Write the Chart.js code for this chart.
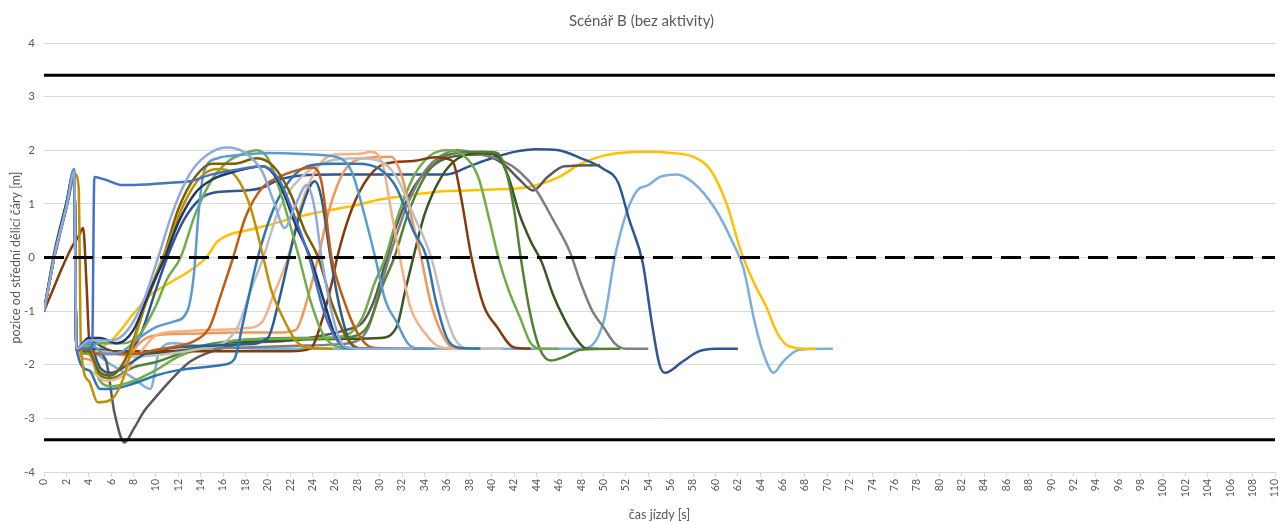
<!DOCTYPE html>
<html>
<head>
<meta charset="utf-8">
<script src="https://cdn.jsdelivr.net/npm/chart.js@4"></script>
<style>
    body { margin: 0; background: #fff; }
    #wrap { width: 1282px; height: 522px; }
</style>
</head>
<body>
<div id="wrap"><canvas id="chart"></canvas></div>
<script>
// time [s] / position [m] pairs
const run01 = [[0,-1],[1,0.1],[2,0.95],[2.7,1.6],[2.9,-1.7],[4,-1.55],[6,-1.55],[7.5,-1.35],[9,-0.75],[10.2,0],[11.5,0.85],[13,1.55],[14.5,1.9],[16.3,2.05],[18,1.95],[19.5,1.6],[20.6,1.0],[21.5,0.55],[22.4,0.95],[23.5,1.35],[24.2,0.9],[24.8,0],[25.8,-1.1],[26.8,-1.65],[28,-1.7],[33,-1.7]]
const run02 = [[0,0],[0.8,0],[1.5,0.5],[2.2,1.1],[2.7,1.6],[2.9,-1.7],[4.3,-1.7],[4.5,1.5],[5.5,1.45],[7,1.35],[9,1.36],[11,1.39],[13,1.42],[15,1.55],[17,1.63],[19.5,1.7],[21,1.45],[22.5,0.7],[23.7,0],[25,-1.0],[26.2,-1.55],[27.5,-1.7],[30,-1.7]]
const run03 = [[0,-1],[1,0.15],[2,1],[2.7,1.6],[2.9,-1.7],[4,-1.5],[5,-1.5],[6.5,-1.6],[8,-1.35],[9.5,-0.6],[10.8,0],[12,0.65],[13.5,1.2],[15,1.45],[17,1.6],[19.5,1.7],[21,1.4],[22.5,0.6],[23.8,0],[25,-0.8],[26,-1.45],[27,-1.68],[29,-1.7]]
const run04 = [[0,-1],[1,0.1],[2,0.95],[2.8,1.55],[3.1,1.3],[3.3,-1.7],[4,-2.3],[4.8,-2.7],[6,-2.65],[7,-2.3],[8,-1.6],[9.5,-0.6],[11,0.2],[12.5,1.0],[14,1.5],[15.5,1.65],[16.5,1.62],[17.5,1.4],[18.5,0.9],[19.6,0],[20.3,-0.6],[21.3,-1.1],[22.5,-1.55],[23.5,-1.68],[25.8,-1.7]]
const run05 = [[0,-1],[1,0.1],[2,0.95],[2.7,1.55],[2.9,-1.7],[4,-1.75],[5,-2.15],[6,-2.2],[7.5,-1.8],[9,-0.9],[10.5,-0.1],[12,0.9],[13.5,1.5],[15,1.75],[17,1.75],[19,1.85],[20.5,1.7],[22,1.2],[23.3,0.5],[24.5,0],[25.8,-0.9],[27.2,-1.55],[28.5,-1.7],[31.5,-1.7]]
const run06 = [[0,-1],[1,0.1],[2,1],[2.7,1.65],[2.9,-1.7],[4,-1.6],[5.5,-1.8],[7,-1.75],[8.5,-1.5],[10,-1.3],[11.5,-1.2],[12.8,-1.0],[13.4,-0.3],[13.8,0.8],[14.3,1.6],[15.5,1.85],[17,1.9],[20,1.95],[24,1.92],[26.5,1.85],[27.5,1.6],[28.5,0.9],[29.6,0],[30.5,-0.8],[31.5,-1.2],[32.5,-1.6],[33.5,-1.7],[35,-1.7]]
const run07 = [[0,-1],[1,0.1],[2,0.95],[2.7,1.6],[2.9,-1.7],[4,-1.65],[5,-1.6],[7,-1.6],[8.5,-1.45],[10,-0.9],[11,-0.4],[12.2,0],[13.5,0.8],[15,1.45],[16.5,1.8],[18,1.95],[19,2.0],[20,1.85],[21,1.3],[22,0.6],[22.8,0],[23.8,-0.8],[25,-1.45],[26.5,-1.68],[28,-1.7]]
const run08 = [[0,-1],[1,0.1],[2,0.95],[2.7,1.6],[2.9,-1.7],[4,-1.75],[5,-1.8],[8,-1.8],[10,-1.72],[12,-1.65],[13.5,-1.55],[14.8,-1.3],[15.8,-0.7],[16.9,0],[18,0.75],[19.5,1.3],[21,1.5],[22.5,1.62],[24,1.68],[24.8,1.4],[25.7,0],[26.8,-0.8],[28,-1.4],[29.3,-1.68],[31,-1.7],[34.5,-1.7]]
const run09 = [[0,-1],[1,0.1],[2,1],[2.7,1.65],[2.9,-1.7],[4,-2.1],[5,-2.45],[6,-2.45],[8,-2.35],[10,-2.2],[12,-2.1],[14,-2.05],[16,-2.0],[17,-1.9],[17.8,-1.2],[19.1,0],[20.5,0.9],[22,1.45],[23.5,1.7],[25.5,1.75],[28,1.75],[30,1.65],[31.5,1.3],[33,0.5],[34.2,0],[35,-0.8],[36,-1.5],[37,-1.68],[39,-1.7]]
const run10 = [[0,-1],[1,0.1],[2,1],[2.7,1.6],[2.9,-1.7],[4,-1.6],[5,-2.05],[6,-2.15],[7.5,-2.0],[9,-1.8],[11,-1.7],[14,-1.65],[18,-1.62],[20,-1.5],[21,-0.8],[22,0.1],[23,0.9],[24.2,1.42],[24.8,1.1],[25.6,0],[26.5,-1.0],[27.4,-1.6],[28.5,-1.7],[30,-1.7]]
const run11 = [[0,-1],[1,0.15],[2,1],[2.7,1.4],[2.9,-1.7],[5,-1.75],[8,-1.85],[11,-1.8],[14,-1.7],[16,-1.6],[17.3,-1.3],[18.5,-0.6],[19.6,0],[21,0.9],[23,1.5],[25.5,1.8],[28,1.85],[30,1.8],[31.5,1.5],[33,0.8],[34.6,0],[35.8,-1.0],[36.8,-1.55],[38,-1.7],[41,-1.7]]
const run12 = [[0,-1],[1,0.2],[2,1],[2.7,1.6],[2.9,-1.7],[4,-2.1],[5.5,-2.3],[7,-2.2],[8.5,-1.8],[10,-1.45],[12,-1.38],[15,-1.35],[18,-1.32],[19.5,-1.2],[20.5,-0.7],[21.8,0],[23,1.0],[24.5,1.7],[26,1.92],[28,1.93],[29.3,1.97],[30.3,1.7],[31,0.9],[31.8,0],[32.7,-0.9],[34,-1.4],[35.5,-1.68],[37,-1.7]]
const run13 = [[0,-1],[1,0.15],[2,1],[2.7,1.6],[2.9,-1.7],[4,-1.9],[5.5,-2.2],[7,-2.05],[8.5,-1.6],[10,-1.45],[13,-1.42],[17,-1.4],[21,-1.4],[22.5,-1.35],[23.5,-0.8],[24.5,0],[25.5,0.9],[26.8,1.6],[28.5,1.85],[31,1.88],[32,1.5],[33,0.6],[33.7,0],[34.5,-0.8],[35.5,-1.4],[36.5,-1.68],[38,-1.7]]
const run14 = [[0,-1],[0.8,-0.6],[1.6,-0.2],[2.5,0.2],[3.1,0.4],[3.5,0.55],[3.8,-0.5],[4.1,-1.7],[5,-1.75],[8,-1.75],[12,-1.75],[17,-1.75],[22,-1.75],[23.8,-1.7],[24.8,-1.2],[25.8,-0.4],[26.2,0],[27.5,0.9],[29,1.5],[30.5,1.75],[33,1.8],[35,1.87],[36.5,1.8],[37.2,1.2],[38.2,0],[39.3,-0.9],[40.5,-1.3],[42,-1.68],[43.5,-1.7]]
const run15 = [[0,-1],[1,0.1],[2,0.95],[2.7,1.55],[2.9,-1.7],[4,-1.8],[5,-2.3],[6,-2.4],[8,-2.3],[10,-2.1],[12,-1.85],[14,-1.7],[17,-1.55],[20,-1.52],[25,-1.5],[27,-1.45],[28.5,-1.1],[29.5,-0.5],[30.5,0],[31.5,0.7],[33,1.5],[34.5,1.9],[36,2.0],[37.5,1.9],[38.8,1.5],[39.8,0.7],[40.6,0],[41.5,-0.6],[42.5,-1.1],[43.5,-1.6],[44.5,-1.7],[46,-1.7]]
const run16 = [[0,-1],[1,0.1],[2,0.95],[2.7,1.6],[2.9,-1.7],[4,-1.8],[5,-2.2],[6,-2.25],[8,-2.05],[10,-1.95],[12,-1.8],[14,-1.65],[17,-1.55],[22,-1.5],[26,-1.5],[28,-1.45],[29,-1.25],[30.3,-0.5],[31.3,0],[32.5,0.8],[34,1.5],[35.5,1.85],[37,1.95],[39,1.97],[40.5,1.95],[41.3,1.6],[42,0.9],[42.6,0],[43.4,-1.0],[44.3,-1.7],[45.3,-1.92],[46.5,-1.85],[48,-1.72],[51.5,-1.7]]
const run17 = [[0,-1],[1,0.1],[2,0.95],[2.7,1.6],[2.9,-1.7],[4,-1.7],[6,-1.75],[9,-1.8],[12,-1.75],[16,-1.6],[20,-1.55],[25,-1.52],[30,-1.5],[31.5,-1.3],[32.3,-0.6],[33,0],[34,0.8],[35.5,1.5],[37,1.85],[39,1.95],[40.5,1.9],[41.5,1.5],[42.5,0.8],[43.5,0.3],[44.5,-0.1],[45.5,-0.7],[46.5,-1.15],[47.5,-1.5],[48.5,-1.7],[49.5,-1.7]]
const run18 = [[0,-1],[1,0.15],[2,1],[2.7,1.5],[2.9,-1.7],[5,-1.75],[8,-1.8],[11,-1.75],[14,-1.7],[18,-1.68],[22,-1.65],[26,-1.62],[28,-1.55],[29,-1.3],[30,-0.6],[31,0.1],[32.5,1.0],[34,1.6],[35.5,1.9],[37,2.0],[39,1.92],[41,1.8],[42.5,1.6],[44,1.25],[45.5,0.7],[47,0.1],[48,-0.5],[49,-1.0],[50,-1.3],[51,-1.6],[52,-1.7],[54,-1.7]]
const run19 = [[0,-1],[1,0.1],[2,0.95],[2.7,1.5],[2.9,-1.7],[4,-1.7],[5.5,-1.9],[6.3,-2.9],[7.2,-3.45],[8,-3.2],[9,-2.85],[10,-2.6],[11.5,-2.25],[13,-1.95],[15,-1.75],[18,-1.6],[22,-1.55],[25,-1.45],[27,-1.35],[28.5,-1.2],[29.5,-0.8],[30.5,-0.1],[31.5,0.6],[33,1.3],[35,1.75],[37,1.9],[39,1.92],[41,1.75],[42.5,1.45],[43.7,1.25],[45,1.5],[46.5,1.7],[49.7,1.72]]
const run20 = [[0,-1],[1,0.1],[2,1],[2.7,1.6],[2.9,-1.7],[4,-1.55],[5.5,-1.7],[7,-1.8],[8.5,-1.5],[10,-0.6],[11,0],[12.5,0.7],[14,1.1],[15.5,1.22],[18,1.25],[19.5,1.3],[21,1.45],[23,1.53],[26,1.55],[30,1.55],[36,1.55],[38,1.7],[40,1.85],[42,1.97],[44,2.02],[46,2.0],[48,1.85],[50,1.65],[51.3,1.4],[52.3,0.7],[53.5,-0.1],[54.3,-1.2],[55,-2.0],[55.5,-2.15],[57,-1.95],[58.5,-1.75],[60,-1.7],[62,-1.7]]
const run21 = [[0,-1],[1,0.1],[2,1],[2.7,1.55],[2.9,-1.7],[4,-1.75],[6,-1.55],[8,-1.05],[9.5,-0.7],[11,-0.5],[13,-0.25],[14.5,0],[15.5,0.3],[16.5,0.42],[18,0.5],[20,0.6],[22,0.72],[24,0.82],[26,0.9],[28,0.98],[30,1.08],[32,1.14],[34,1.2],[36,1.24],[38,1.25],[40,1.27],[42,1.28],[44,1.35],[46,1.5],[48,1.75],[50,1.9],[52,1.96],[54,1.97],[56,1.95],[58,1.88],[59.5,1.65],[61,1.0],[62.3,0.1],[63.5,-0.5],[64.5,-0.9],[65.5,-1.4],[66.5,-1.65],[68,-1.7],[69,-1.7]]
const run22 = [[0,-1],[1,0.1],[2,1],[2.7,1.6],[2.9,-1.7],[4,-1.75],[6,-2.0],[8,-2.25],[9.5,-2.45],[10.3,-1.75],[11.5,-1.6],[14,-1.65],[20,-1.7],[48,-1.7],[50,-1.2],[51,0],[52,0.8],[53,1.25],[54,1.35],[55,1.5],[56.5,1.55],[58,1.4],[60,0.9],[61.5,0.3],[62.5,-0.2],[63.5,-1.2],[64.3,-1.8],[65.2,-2.15],[66,-1.95],[67.5,-1.72],[70.5,-1.7]]

const runColors = ['#8FAADC','#4472C4','#203864','#BF9000','#7F6000','#5B9BD5','#70AD47','#C55A11','#2E75B6','#255E91','#BFBFBF','#F4B183','#F1975A','#843C0C','#70AD47','#548235','#385723','#7F7F7F','#595959','#2F5597','#FFC000','#7CAFDD']
const runs = [run01,run02,run03,run04,run05,run06,run07,run08,run09,run10,run11,run12,run13,run14,run15,run16,run17,run18,run19,run20,run21,run22]

// lane edges and centre line
const laneEdge = 3.4
const centreLine = 0
const xMin = 0
const xMax = 110

function refLine(y, dash) {
    return {
        data: [{x: xMin, y: y}, {x: xMax, y: y}],
        borderColor: '#000',
        borderWidth: 3,
        borderDash: dash,
        pointRadius: 0,
        fill: false
    }
}

function runLine(points, color) {
    return {
        data: points.map((p) => ({x: p[0], y: p[1]})),
        borderColor: color,
        borderWidth: 2.5,
        pointRadius: 0,
        fill: false,
        cubicInterpolationMode: 'monotone'
    }
}

const datasets = [
    refLine(laneEdge, []),
    refLine(-laneEdge, []),
    refLine(centreLine, [20, 9])
].concat(runs.map((r, i) => runLine(r, runColors[i])))

const grey = '#595959'
const font = 'Lato, "Open Sans", sans-serif'

new Chart(document.getElementById('chart'), {
    type: 'line',
    data: { datasets: datasets },
    options: {
        responsive: true,
        maintainAspectRatio: false,
        animation: false,
        layout: { padding: { left: 8, right: 7, top: 0, bottom: 0 } },
        plugins: {
            legend: { display: false },
            tooltip: { enabled: false },
            title: {
                display: true,
                text: 'Scénář B (bez aktivity)',
                color: grey,
                font: { family: font, size: 15, weight: 'normal' },
                padding: { top: 12, bottom: 13 }
            }
        },
        scales: {
            x: {
                type: 'linear',
                min: xMin,
                max: xMax,
                afterFit: (s) => { s.height = 50; s.paddingRight = 0 },
                grid: { drawOnChartArea: false, drawTicks: true, tickLength: 5, color: '#d9d9d9' },
                border: { color: '#d9d9d9' },
                ticks: {
                    stepSize: 2,
                    autoSkip: false,
                    maxRotation: 90,
                    minRotation: 90,
                    color: grey,
                    padding: 2,
                    font: { family: font, size: 10.5 }
                },
                title: {
                    display: true,
                    text: 'čas jízdy [s]',
                    color: grey,
                    font: { family: font, size: 12.5 },
                    padding: { top: 0, bottom: 0 }
                }
            },
            y: {
                min: -4,
                max: 4,
                afterFit: (s) => { s.width = 36 },
                grid: { color: '#d9d9d9', drawTicks: false },
                border: { display: false },
                ticks: {
                    stepSize: 1,
                    color: grey,
                    padding: 9,
                    font: { family: font, size: 11.5 }
                },
                title: {
                    display: true,
                    text: 'pozice od střední dělicí čáry [m]',
                    color: grey,
                    font: { family: font, size: 12.5 },
                    padding: { top: 0, bottom: 0 }
                }
            }
        }
    }
})
</script>
</body>
</html>
